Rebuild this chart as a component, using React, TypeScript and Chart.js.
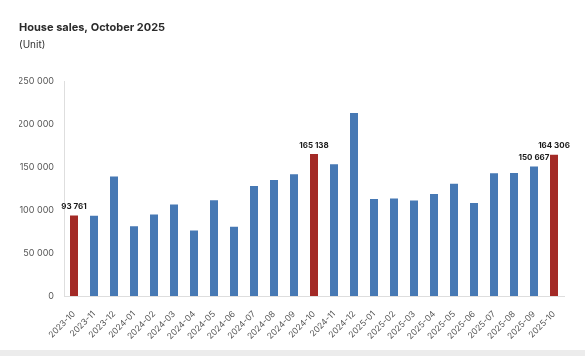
import React, { useEffect, useRef } from "react";
import { Chart, registerables } from "chart.js";

Chart.register(...registerables);

const categories = [
  "2023-10", "2023-11", "2023-12", "2024-01", "2024-02", "2024-03", "2024-04",
  "2024-05", "2024-06", "2024-07", "2024-08", "2024-09", "2024-10", "2024-11",
  "2024-12", "2025-01", "2025-02", "2025-03", "2025-04", "2025-05", "2025-06",
  "2025-07", "2025-08", "2025-09", "2025-10",
];

const sales = [
  93761, 93400, 139200, 81200, 94800, 106400, 76300, 111400, 80500, 128000,
  135000, 141600, 165138, 153400, 212900, 112900, 113600, 111200, 118600,
  130600, 108200, 143000, 143300, 150667, 164306,
];

const highlighted = [0, 12, 24];
const labelled = [0, 12, 23, 24];

const yTicks = [0, 50000, 100000, 150000, 200000, 250000];

const BLUE = "#4779b4";
const RED = "#a32a26";

const fmt = (v: number) =>
  Math.round(v).toString().replace(/\B(?=(\d{3})+(?!\d))/g, " ");

const valueLabels = {
  id: "valueLabels",
  afterDatasetsDraw(chart: any) {
    const ctx = chart.ctx;
    const meta = chart.getDatasetMeta(0);
    ctx.save();
    ctx.font = "bold 8px Inter";
    ctx.fillStyle = "#1a1a1a";
    ctx.textAlign = "center";
    ctx.textBaseline = "bottom";
    labelled.forEach((i) => {
      const el = meta.data[i];
      if (!el) return;
      ctx.fillText(fmt(sales[i]), el.x, el.y - 5);
    });
    ctx.restore();
  },
};

export default function App() {
  const ref = useRef<HTMLCanvasElement | null>(null);

  useEffect(() => {
    document.body.style.margin = "0";
    if (!ref.current) return;
    const chart = new Chart(ref.current, {
      type: "bar",
      data: {
        labels: categories,
        datasets: [
          {
            data: sales,
            backgroundColor: sales.map((_, i) =>
              highlighted.includes(i) ? RED : BLUE
            ),
            barPercentage: 0.4,
            categoryPercentage: 1,
          },
        ],
      },
      options: {
        animation: false,
        responsive: false,
        maintainAspectRatio: false,
        layout: { padding: { left: 19, right: 21, top: 0, bottom: 0 } },
        plugins: {
          legend: { display: false },
          tooltip: { enabled: false },
          title: {
            display: true,
            text: "House sales, October 2025",
            align: "start",
            color: "#2b2b2b",
            font: { family: "Inter", size: 11, weight: "bold" },
            padding: { top: 21, bottom: 5 },
          },
          subtitle: {
            display: true,
            text: "(Unit)",
            align: "start",
            color: "#333",
            font: { family: "Inter", size: 10 },
            padding: { top: 0, bottom: 30 },
          },
        },
        scales: {
          x: {
            grid: { display: false },
            border: { display: true, color: "#dedede" },
            ticks: {
              color: "#555",
              font: { family: "Inter", size: 8.5 },
              minRotation: 45,
              maxRotation: 45,
              autoSkip: false,
              padding: 5,
            },
            afterFit(scale: any) {
              scale.height = 54;
            },
          },
          y: {
            min: 0,
            max: 250000,
            grid: { display: false, drawTicks: false },
            border: { display: true, color: "#dedede" },
            afterBuildTicks(scale: any) {
              scale.ticks = yTicks.map((v) => ({ value: v }));
            },
            ticks: {
              color: "#555",
              font: { family: "Inter", size: 9 },
              padding: 10,
              callback: (v: any) => fmt(Number(v)),
            },
            afterFit(scale: any) {
              scale.width = 45;
            },
          },
        },
      },
      plugins: [valueLabels],
    });
    return () => chart.destroy();
  }, []);

  return (
    <div style={{ position: "relative", width: 585, height: 356, background: "#fff" }}>
      <canvas ref={ref} width={585} height={350} style={{ display: "block" }} />
      <div style={{ height: 6, background: "#ececec" }} />
    </div>
  );
}
